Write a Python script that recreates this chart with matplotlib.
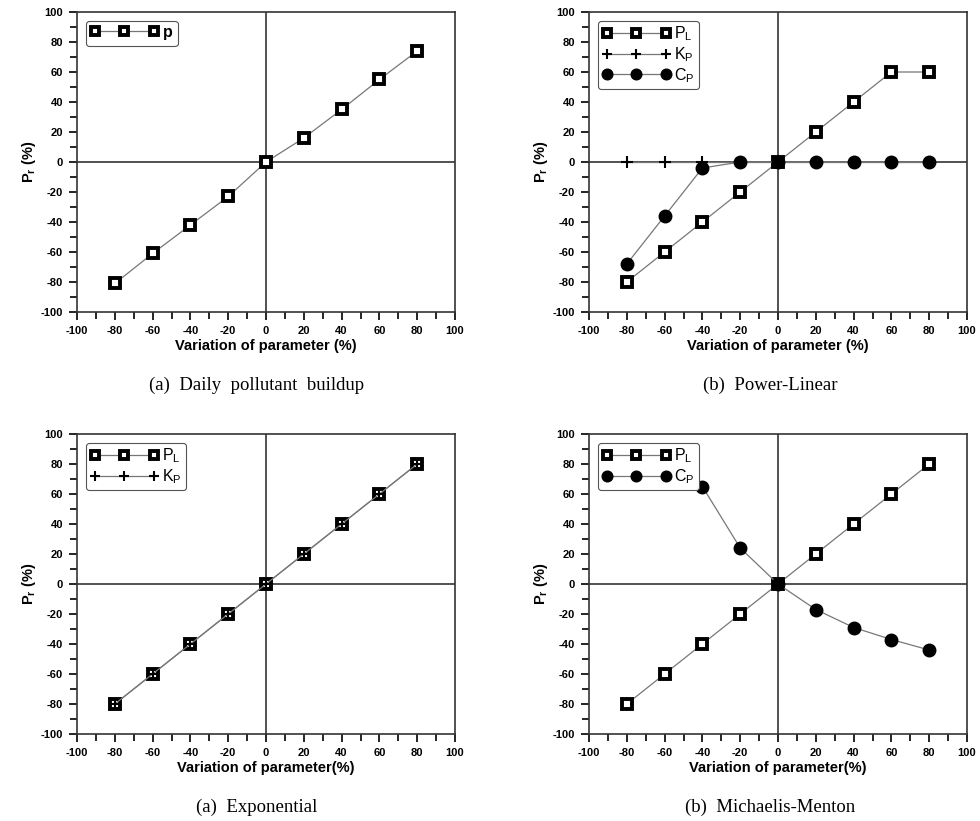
import numpy as np
import matplotlib
matplotlib.use("Agg")
import matplotlib.pyplot as plt
from matplotlib.ticker import MultipleLocator

plt.rcParams['font.family'] = ['Liberation Sans', 'DejaVu Sans']
plt.rcParams['mathtext.fontset'] = 'custom'
plt.rcParams['mathtext.rm'] = 'Liberation Sans'
plt.rcParams['mathtext.bf'] = 'Liberation Sans:bold'
plt.rcParams['axes.unicode_minus'] = False

# 데이터
x = [-80, -60, -40, -20, 0, 20, 40, 60, 80]

# (a) Daily pollutant buildup
p_build = [-81, -61, -42, -23, 0, 16, 35, 55, 74]

# (b) Power-Linear
pl_pow = [-80, -60, -40, -20, 0, 20, 40, 60, 60]
kp_pow = [0, 0, 0, 0, 0, 0, 0, 0, 0]
cp_pow = [-68, -36, -4, 0, 0, 0, 0, 0, 0]

# (a) Exponential
pl_exp = [-80, -60, -40, -20, 0, 20, 40, 60, 80]
kp_exp = [-80, -60, -40, -20, 0, 20, 40, 60, 80]

# (b) Michaelis-Menton
pl_mm = [-80, -60, -40, -20, 0, 20, 40, 60, 80]
x_cp_mm = [-40, -20, 0, 20, 40, 60, 80]
cp_mm = [65, 24, 0, -17, -29, -37, -44]

captions = ['(a)  Daily  pollutant  buildup', '(b)  Power-Linear',
            '(a)  Exponential', '(b)  Michaelis-Menton']
xlabels = ['Variation of parameter (%)', 'Variation of parameter (%)',
           'Variation of parameter(%)', 'Variation of parameter(%)']

sq = dict(marker='s', ms=6.5, mfc='white', mec='black', mew=2.8,
          color='#777777', lw=0.9)
plus = dict(marker='+', ms=9, mec='black', mew=1.5, color='#777777', lw=0.9)
dot = dict(marker='o', ms=9, mfc='black', mec='black', color='#777777', lw=0.9)

fig = plt.figure(figsize=(9.8, 8.21), dpi=100)
W = 378 / 980
H = 300 / 821
pos = [(77 / 980, 1 - 312 / 821), (589 / 980, 1 - 312 / 821),
       (77 / 980, 1 - 734 / 821), (589 / 980, 1 - 734 / 821)]
axes = [fig.add_axes([px, py, W, H]) for px, py in pos]


def style(ax, xlabel):
    ax.set_xlim(-100, 100)
    ax.set_ylim(-100, 100)
    ax.axhline(0, color='#333333', lw=1.2, zorder=1)
    ax.axvline(0, color='#333333', lw=1.2, zorder=1)
    ax.xaxis.set_major_locator(MultipleLocator(20))
    ax.xaxis.set_minor_locator(MultipleLocator(10))
    ax.yaxis.set_major_locator(MultipleLocator(20))
    ax.yaxis.set_minor_locator(MultipleLocator(10))
    ax.tick_params(which='both', direction='out', width=1.2, top=False, right=False)
    ax.tick_params(which='major', length=6, pad=4)
    ax.tick_params(which='minor', length=5)
    for lab in ax.get_xticklabels() + ax.get_yticklabels():
        lab.set_fontsize(8)
        lab.set_fontweight('bold')
    for s in ax.spines.values():
        s.set_linewidth(1.2)
        s.set_color('#333333')
    ax.set_xlabel(xlabel, fontsize=10.5, fontweight='bold', labelpad=2)
    ax.set_ylabel(r'$\mathbf{P_r}$ (%)', fontsize=10.5, fontweight='bold', labelpad=2)


def legend(ax):
    leg = ax.legend(loc='upper left', numpoints=3, handlelength=4.3,
                    markerscale=0.85, fontsize=11.5, fancybox=True, framealpha=1,
                    edgecolor='#555555', borderpad=0.25, labelspacing=0.12,
                    handletextpad=0.25, borderaxespad=0.55)
    leg.get_frame().set_linewidth(0.8)


ax = axes[0]
ax.plot(x, p_build, label=r'$\mathbf{p}$', zorder=3, **sq)
style(ax, xlabels[0])
legend(ax)

ax = axes[1]
ax.plot(x, pl_pow, label=r'$\mathrm{P_L}$', zorder=3, **sq)
ax.plot(x, kp_pow, label=r'$\mathrm{K_P}$', zorder=3, **plus)
ax.plot(x, cp_pow, label=r'$\mathrm{C_P}$', zorder=4, **dot)
style(ax, xlabels[1])
legend(ax)

ax = axes[2]
ax.plot(x, pl_exp, label=r'$\mathrm{P_L}$', zorder=3, **sq)
ax.plot(x, kp_exp, label=r'$\mathrm{K_P}$', zorder=4, **plus)
style(ax, xlabels[2])
legend(ax)

ax = axes[3]
ax.plot(x, pl_mm, label=r'$\mathrm{P_L}$', zorder=3, **sq)
ax.plot(x_cp_mm, cp_mm, label=r'$\mathrm{C_P}$', zorder=3, **dot)
style(ax, xlabels[3])
legend(ax)

cap_pos = [(257 / 980, 1 - 385 / 821), (770 / 980, 1 - 385 / 821),
           (257 / 980, 1 - 807 / 821), (770 / 980, 1 - 807 / 821)]
for (cx, cy), c in zip(cap_pos, captions):
    fig.text(cx, cy, c, ha='center', va='center', fontsize=13.5,
             family=['Liberation Serif', 'DejaVu Serif'])

fig.savefig('out.png', dpi=100)
